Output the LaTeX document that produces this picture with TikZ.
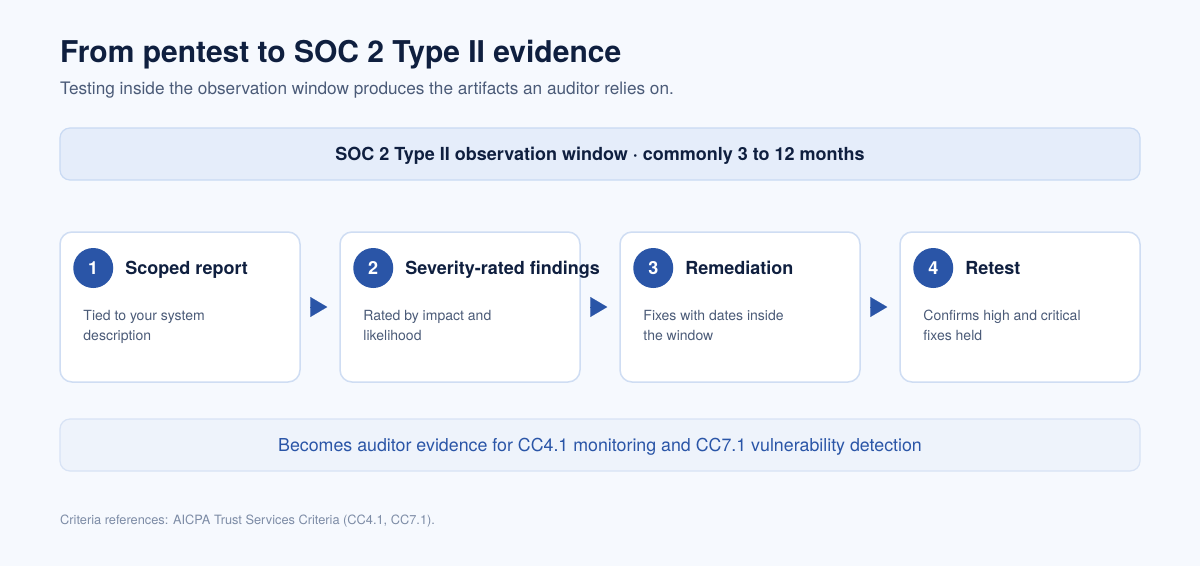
\documentclass[tikz,border=0pt]{standalone}
\usepackage{fontspec}
\setmainfont{TeX Gyre Heros}
\usetikzlibrary{calc,arrows.meta}
\definecolor{bg}{HTML}{F6F9FE}
\definecolor{navy}{HTML}{0F1F3F}
\definecolor{slate}{HTML}{4B5B78}
\definecolor{muted}{HTML}{7D8CA6}
\definecolor{accent}{HTML}{2A55A7}
\definecolor{winbg}{HTML}{E5EDFA}
\definecolor{winborder}{HTML}{C9DAF3}
\definecolor{cardborder}{HTML}{CFDDF3}
\definecolor{evbg}{HTML}{EEF3FB}
\definecolor{evborder}{HTML}{D8E3F5}

\begin{document}
\begin{tikzpicture}[x=1pt, y=-1pt,
  band/.style={rounded corners=10pt, line width=1.2pt, minimum width=1080pt, minimum height=52pt, inner sep=0pt},
  card/.style={draw=cardborder, fill=white, rounded corners=12pt, line width=1.5pt, minimum width=240pt, minimum height=150pt},
  badge/.style={circle, fill=accent, text=white, minimum size=40pt, inner sep=0pt, font=\fontsize{18}{22}\selectfont\bfseries},
  flowtip/.style={-{Triangle[length=17pt,width=20pt]}, accent, line width=0.1pt}]
\fill[bg] (0,0) rectangle (1200,566);
\useasboundingbox (0,0) rectangle (1200,566);
% heading
\node[anchor=base west, inner sep=0pt, text=navy, font=\fontsize{30}{36}\selectfont\bfseries] (title) at (60,62) {From pentest to SOC 2 Type II evidence};
\node[anchor=base west, inner sep=0pt, text=slate, font=\fontsize{17.2}{20}\selectfont] (subtitle) at (60,94.5) {Testing inside the observation window produces the artifacts an auditor relies on.};
% observation window
\node[band, draw=winborder, fill=winbg] (window) at (600,154) {};
\node[text=navy, inner sep=0pt, font=\fontsize{18}{22}\selectfont\bfseries] (windowtext) at ($(window.center)+(0,1.5)$) {SOC 2 Type II observation window · commonly 3 to 12 months};
% steps
\foreach \i/\ttl/\desc in {
  1/Scoped report/{Tied to your system\\description},
  2/Severity-rated findings/{Rated by impact and\\likelihood},
  3/Remediation/{Fixes with dates inside\\the window},
  4/Retest/{Confirms high and critical\\fixes held}}{
  \pgfmathsetmacro\cx{180+280*(\i-1)}
  \node[card] (s\i) at (\cx,307) {};
  \node[badge] (b\i) at ($(s\i.west)+(34,-39)$) {\i};
  \node[anchor=base west, inner sep=0pt, text=navy, font=\fontsize{18}{22}\selectfont\bfseries] (t\i) at ($(b\i.center)+(32,6.5)$) {\ttl};
  \node[anchor=north west, align=left, inner sep=0pt, text=slate, font=\fontsize{14}{20}\selectfont] (d\i) at ($(s\i.west)+(24,3)$) {\desc};
}
\foreach \i/\j in {1/2,2/3,3/4}
  \draw[flowtip, shorten <=11pt, shorten >=12pt] (s\i.east) -- (s\j.west);
% evidence
\node[band, draw=evborder, fill=evbg] (evidence) at (600,445) {};
\node[text=accent, inner sep=0pt, font=\fontsize{17.8}{22}\selectfont] (evidencetext) at ($(evidence.center)+(0,2)$) {Becomes auditor evidence for CC4.1 monitoring and CC7.1 vulnerability detection};
\node[anchor=base west, inner sep=0pt, text=muted, font=\fontsize{12.8}{15}\selectfont] (footnote) at (60,524) {Criteria references: AICPA Trust Services Criteria (CC4.1, CC7.1).};
\end{tikzpicture}
\end{document}
